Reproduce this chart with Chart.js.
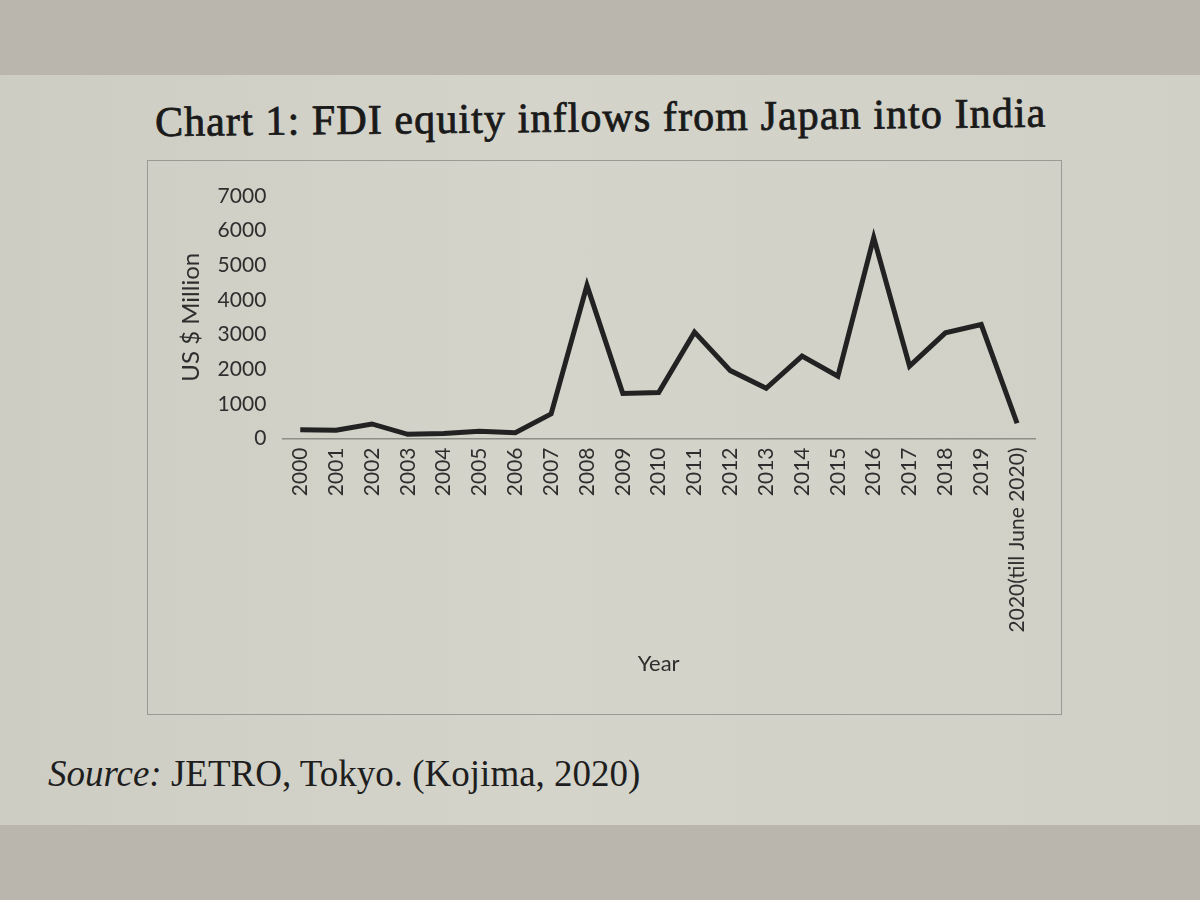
<!DOCTYPE html>
<html>
<head>
<meta charset="utf-8">
<script src="https://cdn.jsdelivr.net/npm/chart.js@4/dist/chart.umd.min.js"></script>
<style>
    html, body { margin: 0; padding: 0; }
    body {
        width: 1200px;
        height: 900px;
        background: #bbb6ad;
        position: relative;
        overflow: hidden;
    }
    .page {
        position: absolute;
        left: 0; top: 75px;
        width: 1200px; height: 750px;
        background: linear-gradient(90deg, #cdcdc4 0%, #d4d4cb 45%, #d0d0c7 100%);
    }
    .title {
        position: absolute;
        left: 155px; top: 98px;
        font-family: "Liberation Serif", "DejaVu Serif", serif;
        font-size: 42px;
        color: #1a1a1a;
        -webkit-text-stroke: 0.8px #1a1a1a;
        letter-spacing: 1.1px;
        transform: rotate(-0.6deg);
        transform-origin: left center;
        white-space: nowrap;
    }
    .box {
        position: absolute;
        left: 147px; top: 160px;
        width: 913px; height: 553px;
        border: 1px solid #9a9a94;
    }
    .box canvas { position: absolute; left: 0; top: 0; }
    .source {
        position: absolute;
        left: 48px; top: 752px;
        font-family: "Liberation Serif", "DejaVu Serif", serif;
        font-size: 37px;
        color: #1e1e1e;
        white-space: nowrap;
    }
    .source i { font-style: italic; }
</style>
</head>
<body>
<div class="page"></div>
<div class="title">Chart 1: FDI equity inflows from Japan into India</div>
<div class="box"><canvas id="fdiChart" width="913" height="553"></canvas></div>
<div class="source"><i>Source:</i> JETRO, Tokyo. (Kojima, 2020)</div>

<script>
const years = [
    '2000', '2001', '2002', '2003', '2004', '2005', '2006', '2007', '2008', '2009',
    '2010', '2011', '2012', '2013', '2014', '2015', '2016', '2017', '2018', '2019',
    '2020(till June 2020)'
];

// US $ Million
const inflows = [
    250, 240, 420, 120, 145, 210, 165, 710, 4420, 1300,
    1330, 3070, 1960, 1450, 2380, 1800, 5800, 2090, 3050, 3290,
    440
];

const yTicks = [0, 1000, 2000, 3000, 4000, 5000, 6000, 7000];

const fontFamily = 'Lato, "Open Sans", sans-serif';

document.addEventListener('DOMContentLoaded', function () {
    const ctx = document.getElementById('fdiChart');

    new Chart(ctx, {
        type: 'line',
        data: {
            labels: years,
            datasets: [
                {
                    label: 'FDI equity inflows',
                    data: inflows,
                    borderColor: '#222222',
                    borderWidth: 5,
                    borderJoinStyle: 'miter',
                    pointRadius: 0,
                    tension: 0,
                    fill: false,
                },
            ],
        },
        options: {
            responsive: false,
            animation: false,
            layout: {
                padding: { left: 32, right: 26, top: 35, bottom: 33 },
            },
            plugins: {
                legend: { display: false },
                tooltip: { enabled: false },
            },
            scales: {
                x: {
                    offset: true,
                    grid: { display: false, drawTicks: false },
                    border: { display: true, color: '#8e8e88', width: 1.5 },
                    ticks: {
                        color: '#2e2e2e',
                        font: { family: fontFamily, size: 21 },
                        minRotation: 90,
                        maxRotation: 90,
                        autoSkip: false,
                        padding: 9,
                    },
                    title: {
                        display: true,
                        text: 'Year',
                        color: '#2e2e2e',
                        font: { family: fontFamily, size: 22 },
                        padding: { top: 10 },
                    },
                },
                y: {
                    min: 0,
                    max: 7000,
                    afterBuildTicks: function (axis) {
                        axis.ticks = yTicks.map(v => ({ value: v }));
                    },
                    grid: { display: false, drawTicks: false },
                    border: { display: false },
                    ticks: {
                        color: '#2e2e2e',
                        font: { family: fontFamily, size: 21 },
                        padding: 16,
                        callback: value => String(value),
                    },
                    title: {
                        display: true,
                        text: 'US $ Million',
                        color: '#2e2e2e',
                        font: { family: fontFamily, size: 24, lineHeight: 0.9 },
                        padding: { top: 0, bottom: 0 },
                    },
                },
            },
        },
    });
});
</script>
</body>
</html>
